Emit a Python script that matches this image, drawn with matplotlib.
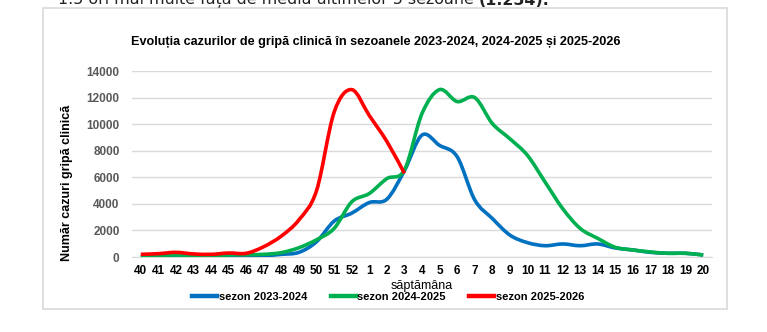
import numpy as np
import matplotlib.pyplot as plt
from matplotlib.path import Path
from matplotlib.patches import PathPatch, Rectangle
from matplotlib.lines import Line2D
from matplotlib.text import Annotation

weeks = ['40', '41', '42', '43', '44', '45', '46', '47', '48', '49', '50', '51', '52',
         '1', '2', '3', '4', '5', '6', '7', '8', '9', '10', '11', '12', '13', '14',
         '15', '16', '17', '18', '19', '20']

s2324 = [30, 50, 60, 50, 50, 100, 80, 100, 200, 350, 1150, 2700, 3300, 4100, 4350, 6500,
         9180, 8400, 7550, 4300, 2900, 1650, 1080, 850, 980, 850, 980, 680, 530, 350, 280, 280, 150]
s2425 = [50, 100, 150, 100, 100, 150, 170, 200, 330, 700, 1300, 2150, 4150, 4780, 5900, 6550,
         10800, 12600, 11700, 12000, 10050, 8900, 7650, 5650, 3650, 2150, 1400, 730, 530, 380, 280, 280, 150]
s2526 = [200, 250, 350, 230, 200, 300, 280, 780, 1580, 2800, 5000, 10900, 12600, 10650, 8700, 6300]

labels = ['sezon 2023-2024', 'sezon 2024-2025', 'sezon 2025-2026']
colors = ['#0070C0', '#00B050', '#FF0000']

plt.rcParams['font.family'] = ['Liberation Sans', 'DejaVu Sans']


def smooth_path(y):
    # excel-like smoothed line: bezier segments through the data points
    x = np.arange(len(y), dtype=float)
    y = np.asarray(y, dtype=float)
    pts = np.column_stack([x, y])
    verts = [pts[0]]
    codes = [Path.MOVETO]
    n = len(pts)
    for i in range(n - 1):
        p0 = pts[max(i - 1, 0)]
        p1 = pts[i]
        p2 = pts[i + 1]
        p3 = pts[min(i + 2, n - 1)]
        c1 = p1 + (p2 - p0) / 6.0
        c2 = p2 - (p3 - p1) / 6.0
        verts += [c1, c2, p2]
        codes += [Path.CURVE4] * 3
    return Path(verts, codes)


fig = plt.figure(figsize=(7.67, 3.32), dpi=100)

# chart frame
fig.patches.append(Rectangle((0.0561, 0.0693), 0.8917, 0.9066, transform=fig.transFigure,
                             fill=False, edgecolor='#D9D9D9', linewidth=1.2))

# leftover text line from the page above the chart (cut at the top, as in the screenshot)
t1 = fig.text(0.0756, 0.989, '1.5 ori mai multe față de media ultimelor 5 sezoane ',
              family='DejaVu Sans', fontsize=11.4, va='baseline', ha='left', color='#222222')
fig.add_artist(Annotation('(1.254).', xy=(1, 0), xycoords=t1,
                          va='bottom', ha='left', family='DejaVu Sans',
                          fontsize=11.4, fontweight='bold', color='#222222',
                          annotation_clip=False))

ax = fig.add_axes([0.1721, 0.2259, 0.7562, 0.5602])

for ys, c in zip([s2324, s2425, s2526], colors):
    ax.add_patch(PathPatch(smooth_path(ys), facecolor='none', edgecolor=c,
                           linewidth=2.6, capstyle='butt', joinstyle='round', zorder=3))

ax.set_xlim(-0.5, len(weeks) - 0.5)
ax.set_ylim(0, 14000)
ax.set_yticks(np.arange(0, 14001, 2000))
ax.set_xticks(np.arange(len(weeks)))
ax.set_xticklabels(weeks)
ax.grid(axis='y', color='#D9D9D9', linewidth=1)
ax.set_axisbelow(True)
for sp in ['top', 'right', 'left']:
    ax.spines[sp].set_visible(False)
ax.spines['bottom'].set_color('#D9D9D9')
ax.tick_params(axis='both', length=0)
ax.tick_params(axis='y', labelsize=8.5, labelcolor='#595959', pad=9)
ax.tick_params(axis='x', labelsize=8.5, labelcolor='black', pad=6)
for t in ax.get_yticklabels() + ax.get_xticklabels():
    t.set_fontweight('bold')

ax.set_ylabel('Număr cazuri gripă clinică', fontsize=9, fontweight='bold')
ax.yaxis.set_label_coords(-0.102, 0.40)
ax.set_xlabel('săptămâna', fontsize=9, labelpad=2)
ax.set_title('Evoluția cazurilor de gripă clinică în sezoanele 2023-2024, 2024-2025 și 2025-2026',
             fontsize=9.1, fontweight='bold', pad=19, x=0.42)

handles = [Line2D([], [], color=c, linewidth=3.2) for c in colors]
fig.legend(handles, labels, loc='center', bbox_to_anchor=(0.506, 0.105), ncol=3,
           frameon=False, handlelength=2.25, handletextpad=0.15, columnspacing=2.1,
           prop={'weight': 'bold', 'size': 8})

fig.savefig('out.png', dpi=100)
